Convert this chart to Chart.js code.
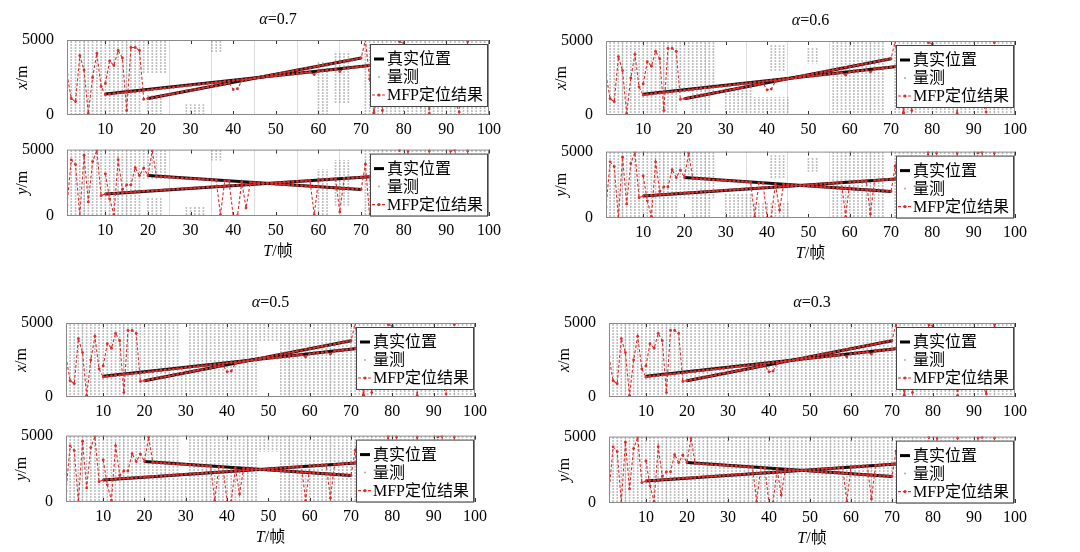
<!DOCTYPE html>
<html>
<head>
<meta charset="utf-8">
<script src="https://cdn.jsdelivr.net/npm/chart.js@4.4.1/dist/chart.umd.min.js"></script>
<style>
  body { margin: 0; background: #fff; width: 1080px; height: 552px; position: relative; overflow: hidden; }
  canvas { position: absolute; }
</style>
</head>
<body>
<script>
// axis ticks
const frameTicks = [10, 20, 30, 40, 50, 60, 70, 80, 90, 100];
const valueTicks = [0, 5000];
const frames = Array.from({ length: 100 }, (_, i) => i + 1);

// true tracks (start / end)
const trueFrames1 = [10, 72];
const trueX1 = [1400, 3300];
const trueY1 = [1650, 2950];
const trueFrames2 = [20, 70];
const trueX2 = [1100, 3800];
const trueY2 = [3050, 2000];

// MFP results, one value per frame 1..100 (null = none)
const mfpX1 = [
  2700, 1100, 900, 3950, 3000, 100, 2500, 4100, 1900,
  1350, 1390, 1420, 1470, 1480, 1530, 1550, 1560, 1610, 1640,
  1660, 1700, 1720, 1770, 1790, 1830, 1850, 1890, 1920, 1940,
  1990, 2010, 2050, 2070, 2110, 2130, 2170, 2200, 2240, 2260,
  2300, 2330, 2350, 2390, 2410, 2450, 2480, 2500, 2550, 2570,
  2610, 2640, 2660, 2710, 2720, 2770, 2790, 2830, 2850, 2700,
  2920, 2950, 2990, 3000, 3050, 2900, 3110, 3140, 3160, 3200,
  3230, 3270, 3300, 150, 2600, 300, 2800, 3500, 1200, 4900,
  4800, 2200, 3900, 1500, 600, 2700, 100, 3300, 2500, 1800,
  4200, 3000, 900, 200, 2600, 4900, 3700, 1400, 2200, 3000,
  1700
];
const mfpX2 = [
  null, null, null, null, null, null, null, null, null,
  2100, 3600, 3300, 4300, 3800, 300, 4500, 4500, 4300, 1050,
  1100, 1160, 1200, 1270, 1310, 1380, 1410, 1490, 1520, 1600,
  1630, 1700, 1740, 1810, 1850, 1920, 1950, 2030, 2060, 2140,
  1700, 1750, 2280, 2350, 2390, 2460, 2490, 2570, 2600, 2680,
  2710, 2780, 2820, 2890, 2930, 3000, 3030, 3110, 3140, 3220,
  3250, 3320, 3360, 3430, 3470, 3540, 3570, 3650, 3680, 3760,
  3800, 5000, 2400, 100, 1800, null, null, null, null, null,
  null, null, null, null, null, null, null, null, null, null,
  null, null, null, null, null, null, null, null, null, null,
  null
];
const mfpY1 = [
  820, 4230, 3870, 0, 4580, 1060, 4100, 4930, 1530,
  1650, 1690, 1700, 1730, 1750, 1780, 1790, 1810, 1840, 1870,
  1870, 1900, 1920, 1950, 1960, 1990, 2010, 2020, 2050, 2070,
  2090, 2110, 2130, 2150, 2170, 2190, 2220, 2230, 2250, 2280,
  2300, 2310, 2340, 2360, 2370, 2400, 2420, 2440, 2460, 2480,
  2500, 2520, 2550, 2560, 2590, 2600, 2630, 2650, 2660, 100,
  2710, 2730, 2750, 2770, 2790, 300, 2830, 2850, 2870, 2900,
  2920, 2940, 2950, 0, 2300, 1800, 3500, 2900, 4000, 4950,
  2600, 4900, 1500, 3200, 2200, 900, 4900, 2800, 1700, 3600,
  2500, 4900, 4950, 3000, 1200, 4900, 2100, 3900, 2000, 3500,
  3300
];
const mfpY2 = [
  null, null, null, null, null, null, null, null, null,
  3170, 1290, 120, 4230, 2000, 2350, 2350, 3640, 3050, 3600,
  3050, 4900, 2980, 2960, 2950, 2920, 2900, 2870, 2860, 2830,
  2830, 2790, 2790, 2750, 2740, 2710, 2700, 100, 2650, 2640,
  0, 50, 2560, 600, 2530, 2520, 2480, 2460, 2440, 2430,
  2400, 2390, 2360, 2340, 2320, 2300, 2290, 2260, 2240, 2220,
  2210, 2180, 2170, 2140, 2120, 2100, 2090, 2060, 2050, 2030,
  2000, 3900, 0, 2800, 1500, null, null, null, null, null,
  null, null, null, null, null, null, null, null, null, null,
  null, null, null, null, null, null, null, null, null, null,
  null
];

// measurement columns: [first frame, last frame, low, high]
const clutter07 = [[1, 18, 0, 5000], [71, 100, 0, 5000], [19, 24, 2800, 5000], [20, 23, 0, 1400],
  [29, 33, 0, 700], [35, 37, 4200, 5000], [60, 62, 0, 3500], [64, 67, 800, 4200]];
const clutter06 = [[1, 18, 0, 5000], [71, 100, 0, 5000], [19, 27, 1500, 5000], [22, 26, 0, 1500],
  [30, 36, 0, 1800], [37, 45, 0, 1200], [41, 44, 3000, 4700], [50, 52, 3500, 4500], [56, 68, 0, 5000]];
const clutter05 = [[1, 28, 0, 5000], [31, 47, 0, 5000], [53, 100, 0, 5000], [29, 30, 0, 1800], [48, 52, 3800, 5000]];
const clutter03 = [[1, 100, 0, 5000]];

const alphas = ['0.7', '0.6', '0.5', '0.3'];
const clutters = [clutter07, clutter06, clutter05, clutter03];

const legendLabels = ['真实位置', '量测', 'MFP定位结果'];
const RED = '#dd2a2a';
const SERIF = '"Liberation Serif", "Noto Sans CJK SC", serif';

// plot areas [left, right, top, bottom] for the x and y plots of each panel
const areas = [
  [[67, 490, 40, 115], [67, 490, 145, 216]],
  [[606, 1016, 41, 115], [606, 1016, 147, 218]],
  [[66, 476, 323, 397], [66, 476, 431, 502]],
  [[609, 1016, 323, 397], [609, 1016, 432, 503]]
];

// dotted fill for the measurement columns
const pc = document.createElement('canvas');
pc.width = 1; pc.height = 3;
const pctx = pc.getContext('2d');
pctx.fillStyle = 'rgba(150,150,150,0.6)';
pctx.fillRect(0, 0, 1, 2);
const dotted = pctx.createPattern(pc, 'repeat');

function pts(fs, vs) {
  return fs.map((f, i) => ({ x: f, y: vs[i] }));
}

function columns(blocks) {
  const out = [];
  blocks.forEach(b => {
    for (let f = b[0]; f <= b[1]; f++) out.push({ x: f, y: [b[2], b[3]] });
  });
  return out;
}

function drawMixed(ctx, parts, x, y, align) {
  let w = 0;
  parts.forEach(p => { ctx.font = p[1]; w += ctx.measureText(p[0]).width; });
  let cx = align === 'center' ? x - w / 2 : x;
  ctx.textAlign = 'left';
  parts.forEach(p => { ctx.font = p[1]; ctx.fillText(p[0], cx, y); cx += ctx.measureText(p[0]).width; });
}

const decor = {
  id: 'decor',
  afterDatasetsDraw(chart, args, o) {
    const { ctx, chartArea: a } = chart;
    const xs = chart.scales.x;
    ctx.save();
    // inner tick marks top and bottom
    ctx.strokeStyle = '#333';
    ctx.lineWidth = 1;
    frameTicks.forEach(t => {
      const px = Math.round(xs.getPixelForValue(t)) + 0.5;
      ctx.beginPath();
      ctx.moveTo(px, a.top); ctx.lineTo(px, a.top + 4);
      ctx.moveTo(px, a.bottom); ctx.lineTo(px, a.bottom - 4);
      ctx.stroke();
    });
    // box
    ctx.strokeStyle = '#8a8a8a';
    ctx.strokeRect(a.left + 0.5, a.top + 0.5, a.width - 1, a.height - 1);

    // legend
    ctx.font = '16px ' + SERIF;
    const tw = ctx.measureText(legendLabels[2]).width;
    const lw = tw + 21, lh = 62;
    const L = a.right - 2 - lw, T = a.top + 4;
    ctx.fillStyle = '#fff';
    ctx.fillRect(L, T, lw, lh);
    ctx.strokeStyle = '#444';
    ctx.strokeRect(Math.round(L) + 0.5, T + 0.5, Math.round(lw), lh);
    const rows = [T + 15, T + 33, T + 51];
    ctx.strokeStyle = '#000';
    ctx.lineWidth = 3;
    ctx.beginPath(); ctx.moveTo(L + 4, rows[0]); ctx.lineTo(L + 14, rows[0]); ctx.stroke();
    ctx.fillStyle = '#aaa';
    ctx.beginPath(); ctx.arc(L + 9, rows[1], 1, 0, Math.PI * 2); ctx.fill();
    ctx.strokeStyle = RED;
    ctx.lineWidth = 1.2;
    ctx.setLineDash([3, 2]);
    ctx.beginPath(); ctx.moveTo(L + 2, rows[2]); ctx.lineTo(L + 16, rows[2]); ctx.stroke();
    ctx.setLineDash([]);
    ctx.fillStyle = RED;
    ctx.beginPath(); ctx.arc(L + 9, rows[2], 1.6, 0, Math.PI * 2); ctx.fill();
    ctx.fillStyle = '#000';
    ctx.textBaseline = 'middle';
    ctx.textAlign = 'left';
    legendLabels.forEach((s, i) => ctx.fillText(s, L + 17, rows[i] + 1));
    ctx.restore();
  },
  afterDraw(chart, args, o) {
    const { ctx, chartArea: a } = chart;
    const mid = (a.left + a.right) / 2;
    ctx.save();
    ctx.fillStyle = '#000';
    ctx.textBaseline = 'middle';
    if (o.title) {
      drawMixed(ctx, [['α', 'italic 16px ' + SERIF], ['=' + o.title, '16px ' + SERIF]], mid, a.top - 20, 'center');
    }
    if (o.xlabel) {
      drawMixed(ctx, [['T', 'italic 16px ' + SERIF], ['/帧', '16px ' + SERIF]], mid, a.bottom + 36, 'center');
    }
    ctx.translate(a.left - 44, (a.top + a.bottom) / 2);
    ctx.rotate(-Math.PI / 2);
    drawMixed(ctx, [[o.ylabel, 'italic 16px ' + SERIF], ['/m', '16px ' + SERIF]], 0, 0, 'center');
    ctx.restore();
  }
};

function makeChart(area, opts) {
  const [l, r, t, b] = area;
  const padTop = opts.title ? 32 : 10;
  const hx = opts.xlabel ? 50 : 25;
  const cv = document.createElement('canvas');
  cv.width = 60 + (r - l) + 16;
  cv.height = padTop + (b - t) + hx;
  cv.style.left = (l - 60) + 'px';
  cv.style.top = (t - padTop) + 'px';
  document.body.appendChild(cv);

  new Chart(cv, {
    type: 'line',
    data: {
      datasets: [
        {
          type: 'bar',
          data: columns(opts.clutter),
          backgroundColor: dotted,
          barThickness: 1,
          order: 3
        },
        { data: pts(trueFrames1, opts.true1), borderColor: '#111', borderWidth: 3, pointRadius: 0, order: 2 },
        { data: pts(trueFrames2, opts.true2), borderColor: '#111', borderWidth: 3, pointRadius: 0, order: 2 },
        {
          data: pts(frames, opts.mfp1), borderColor: RED, borderWidth: 1.1, borderDash: [3, 2],
          pointRadius: 1.4, pointBackgroundColor: RED, pointBorderWidth: 0, order: 1
        },
        {
          data: pts(frames, opts.mfp2), borderColor: RED, borderWidth: 1.1, borderDash: [3, 2],
          pointRadius: 1.4, pointBackgroundColor: RED, pointBorderWidth: 0, order: 1
        }
      ]
    },
    options: {
      responsive: false,
      animation: false,
      events: [],
      layout: { padding: { top: padTop, right: 16, left: 0, bottom: 0 } },
      plugins: {
        legend: { display: false },
        tooltip: { enabled: false },
        decor: { title: opts.title, xlabel: opts.xlabel, ylabel: opts.ylabel }
      },
      scales: {
        x: {
          type: 'linear', min: 1, max: 100, offset: false,
          afterBuildTicks: s => { s.ticks = frameTicks.map(v => ({ value: v })); },
          afterFit: s => { s.height = hx; },
          grid: { color: '#dcdcdc', drawTicks: false },
          border: { display: false },
          ticks: { color: '#000', padding: 5, font: { family: SERIF, size: 16 }, maxRotation: 0, callback: v => String(v) }
        },
        y: {
          min: 0, max: 5000,
          afterBuildTicks: s => { s.ticks = valueTicks.map(v => ({ value: v })); },
          afterFit: s => { s.width = 60; },
          grid: { display: false },
          border: { display: false },
          ticks: { color: '#000', padding: 5, font: { family: SERIF, size: 16 }, callback: v => String(v) }
        }
      }
    },
    plugins: [decor]
  });
}

alphas.forEach((al, i) => {
  makeChart(areas[i][0], {
    title: al, ylabel: 'x', clutter: clutters[i],
    true1: trueX1, true2: trueX2, mfp1: mfpX1, mfp2: mfpX2
  });
  makeChart(areas[i][1], {
    xlabel: true, ylabel: 'y', clutter: clutters[i],
    true1: trueY1, true2: trueY2, mfp1: mfpY1, mfp2: mfpY2
  });
});
</script>
</body>
</html>
